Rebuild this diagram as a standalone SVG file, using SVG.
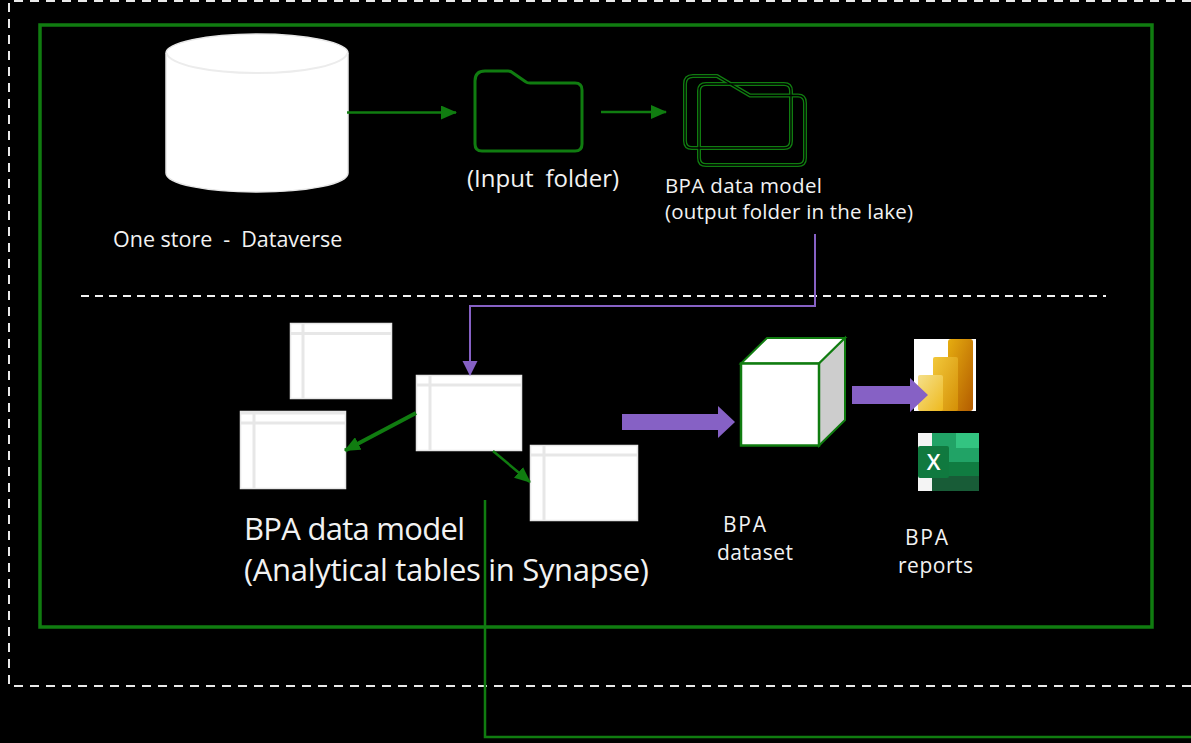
<svg xmlns="http://www.w3.org/2000/svg" width="1191" height="743" viewBox="0 0 1191 743">
<style>
text{font-family:"Open Sans","Noto Sans","Liberation Sans",sans-serif;fill:#f2f2f2}
.t{fill:#fff;stroke:#e7e7e7;stroke-width:1.5}
.g{fill:none;stroke:#e7e7e7;stroke-width:3}
.c{fill:none;stroke:#107c10;stroke-width:2.500}
.p{fill:none;stroke:#8661c5;stroke-width:2}
.f{fill:none;stroke:#107c10;stroke-width:3;stroke-linejoin:round}
</style>
<defs>
<marker id="ag" markerUnits="userSpaceOnUse" markerWidth="16" markerHeight="14" refX="15" refY="7" orient="auto"><path d="M0 0L16 7L0 14Z" fill="#107c10"/></marker>
<marker id="ap" markerUnits="userSpaceOnUse" markerWidth="16" markerHeight="16" refX="14" refY="8" orient="auto"><path d="M0 0.500L15 8L0 15.500Z" fill="#8661c5"/></marker>
<linearGradient id="b1" x1="0" y1="0" x2="1" y2="1"><stop offset="0" stop-color="#e6ad10"/><stop offset="1" stop-color="#b35c00"/></linearGradient>
<linearGradient id="b2" x1="0" y1="0" x2="1" y2="1"><stop offset="0" stop-color="#f2c83a"/><stop offset="1" stop-color="#d48f06"/></linearGradient>
<linearGradient id="b3" x1="0" y1="0" x2="1" y2="1"><stop offset="0" stop-color="#f5e08a"/><stop offset="1" stop-color="#eeb91e"/></linearGradient>
<path id="fold" d="M685 84Q685 76 693 76H717L750 95.500H798Q805 95.500 805 103V158Q805 165 798 165H706Q699 165 699 158V91Q699 84 706 84H784Q791 84 791 91V141Q791 148 784 148H692Q685 148 685 141Z" fill="none" stroke-linejoin="round"/>
</defs>
<rect width="1191" height="743" fill="#000"/>
<g id="outer-boundary"><path d="M1191 686H9V1H1191" fill="none" stroke="#e9e9e9" stroke-width="2" stroke-dasharray="9 7"/></g>
<g id="inner-boundary"><rect x="40" y="25" width="1112" height="602" fill="none" stroke="#107c10" stroke-width="3.500"/></g>
<g id="divider"><line x1="81" y1="296" x2="1106" y2="296" stroke="#f2f2f2" stroke-width="1.800" stroke-dasharray="8 6"/></g>
<g id="one-store">
<path d="M166 53C166 43 206 34 257 34S348 43 348 53V173C348 184 308 192 257 192S166 184 166 173Z" fill="#fff" stroke="#e7e7e7" stroke-width="1.500"/>
<path d="M166.500 53C170 65 210 73 257 73S344 65 347.500 53" fill="none" stroke="#ececec" stroke-width="2"/>
<text x="113" y="247" font-size="21.500">One store<tspan dx="11">-</tspan><tspan dx="11">Dataverse</tspan></text>
</g>
<g id="input-folder">
<path class="f" d="M475 81Q475 71 485 71H508Q511 71 513 73L526 82Q527 83 530 83H575Q582 83 582 90V144Q582 151 575 151H482Q475 151 475 144Z"/>
<text x="467" y="187" font-size="24">(Input<tspan dx="12">folder)</tspan></text>
</g>
<g id="output-folder">
<use href="#fold" stroke="#107c10" stroke-width="4"/>
<use href="#fold" stroke="#000" stroke-width="1.300"/>
<text x="665" y="193" font-size="20.500" textLength="157">BPA data model</text>
<text x="665" y="219" font-size="20.500" textLength="248">(output folder in the lake)</text>
</g>
<g id="table-top-left"><rect class="t" x="290.500" y="323.500" width="101" height="75"/><path class="g" d="M290 333.500H392M303 323V399"/></g>
<g id="table-left"><rect class="t" x="240.500" y="411.500" width="105" height="77"/><path class="g" d="M240 423H346M254 411V489M240 413H346"/></g>
<g id="table-center"><rect class="t" x="416.500" y="375.500" width="105" height="75"/><path class="g" d="M416 385H522M430 375V451"/></g>
<g id="table-right"><rect class="t" x="530.500" y="445.500" width="107" height="75"/><path class="g" d="M530 455H638M544 445V521"/></g>
<g id="analytical-label">
<text x="244" y="540" font-size="31" textLength="221">BPA data model</text>
<text x="244" y="581" font-size="31" textLength="405">(Analytical tables in Synapse)</text>
</g>
<g id="dataset">
<path d="M741 363.500L767 338H845L819 363.500Z" fill="#fff" stroke="#107c10" stroke-width="2"/>
<path d="M819 363.500L845 338V420L819 445.500Z" fill="#cdcdcd" stroke="#107c10" stroke-width="2"/>
<rect x="741" y="363.500" width="78" height="82" fill="#fff" stroke="#107c10" stroke-width="2.500"/>
<text x="723" y="532" font-size="21" textLength="43">BPA</text>
<text x="717" y="560" font-size="21" textLength="76">dataset</text>
</g>
<g id="power-bi-icon">
<rect x="914" y="339" width="62" height="72" fill="#fff"/>
<rect x="948" y="339" width="25" height="72" rx="3" fill="url(#b1)"/>
<rect x="933" y="357" width="25" height="54" rx="2" fill="url(#b2)"/>
<rect x="918" y="375" width="25" height="36" rx="2" fill="url(#b3)"/>
</g>
<g id="excel-icon">
<rect x="918" y="433" width="14" height="58" fill="#f4f4f4"/>
<rect x="932" y="433" width="47" height="15" fill="#21a366"/>
<rect x="956" y="433" width="23" height="15" fill="#33c481"/>
<rect x="932" y="448" width="47" height="14" fill="#21a366"/>
<rect x="932" y="462" width="47" height="14" fill="#107c41"/>
<rect x="932" y="476" width="47" height="15" fill="#185c37"/>
<rect x="918" y="446" width="31" height="32" rx="2" fill="#10793f"/>
<text x="933.500" y="470" font-size="22" font-weight="600" text-anchor="middle" style="fill:#fff">X</text>
</g>
<g id="reports-label">
<text x="905" y="545" font-size="21" textLength="43">BPA</text>
<text x="898" y="573" font-size="21" textLength="75">reports</text>
</g>
<g id="connectors">
<line class="c" x1="347" y1="112.500" x2="456" y2="112.500" marker-end="url(#ag)"/>
<line class="c" x1="601" y1="112" x2="666" y2="112" marker-end="url(#ag)"/>
<path class="p" d="M815 234V306H470V375" marker-end="url(#ap)"/>
<line x1="416" y1="413" x2="345" y2="450.500" stroke="#107c10" stroke-width="4" marker-end="url(#ag)"/>
<line class="c" x1="493" y1="451" x2="530" y2="482" marker-end="url(#ag)"/>
<path d="M622 414H718V406L735 422L718 438V430H622Z" fill="#8661c5"/>
<path d="M852 386H910V378L928 395L910 412V404H852Z" fill="#8661c5"/>
<path class="c" d="M485 500V737H1191"/>
</g>
</svg>
